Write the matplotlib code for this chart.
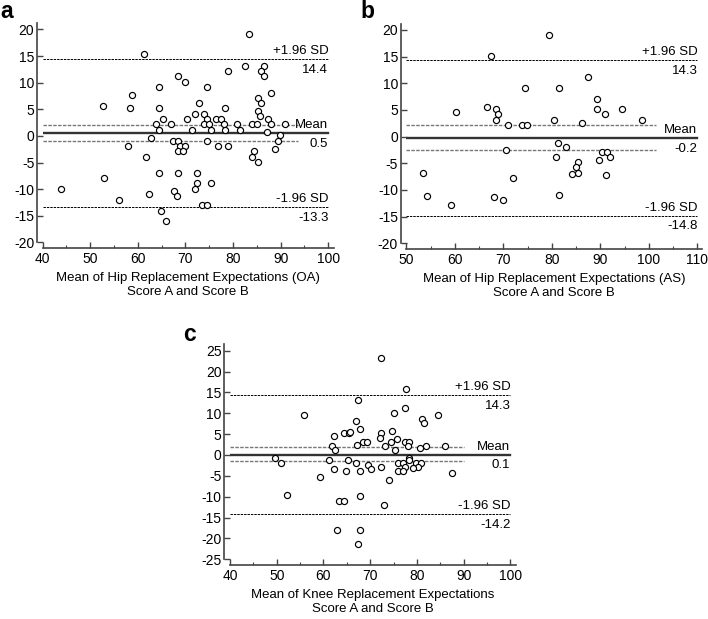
import matplotlib
matplotlib.use("Agg")
import matplotlib.pyplot as plt
from matplotlib.ticker import MultipleLocator

plt.rcParams['font.family'] = ['Liberation Sans', 'DejaVu Sans']
plt.rcParams['axes.unicode_minus'] = False

# ---------------- data ----------------
a_x = [83.4, 61.3, 82.4, 86.4, 78.9, 85.9, 86.4, 68.4, 70.0, 64.4, 74.5, 87.9, 58.7, 85.3, 85.9,
       72.9, 52.7, 58.3, 64.4, 78.4, 85.2, 71.9, 73.9, 85.6, 65.3, 70.4, 74.5, 76.4, 77.4, 87.4,
       63.9, 66.9, 73.9, 74.9, 78.0, 80.9, 83.9, 85.0, 87.9, 90.9, 64.4, 71.4, 75.4, 78.4, 81.4,
       87.1, 89.9, 62.7, 67.3, 68.4, 74.5, 89.4, 57.9, 68.9, 70.0, 76.8, 78.9, 88.7, 68.4, 69.4,
       84.4, 61.8, 83.9, 85.3, 64.4, 68.4, 72.4, 72.4, 75.4, 52.9, 43.9, 71.9, 67.6, 68.2, 62.4,
       56.0, 73.4, 74.5, 64.9, 65.9]
a_y = [19.2, 15.3, 13.2, 13.2, 12.2, 12.2, 11.2, 11.2, 10.2, 9.2, 9.2, 8.1, 7.6, 7.1, 6.1,
       6.1, 5.6, 5.2, 5.2, 5.2, 4.7, 4.2, 4.2, 3.7, 3.2, 3.2, 3.2, 3.2, 3.2, 3.2,
       2.2, 2.2, 2.2, 2.2, 2.2, 2.2, 2.2, 2.2, 2.2, 2.2, 1.2, 1.2, 1.2, 1.2, 1.2,
       0.7, 0.2, -0.3, -0.9, -0.9, -0.9, -0.9, -1.9, -1.9, -1.9, -1.9, -1.9, -2.4, -2.9, -2.9,
       -2.9, -3.9, -3.9, -4.9, -6.9, -6.9, -6.9, -8.9, -8.9, -7.9, -9.9, -9.9, -10.4, -11.3, -10.9,
       -12.0, -12.9, -12.9, -14.0, -15.9]

b_x = [79.4, 67.4, 87.4, 74.4, 81.5, 89.4, 60.2, 66.6, 68.4, 89.4, 94.4, 68.9, 90.9, 68.4, 80.4,
       98.5, 70.9, 73.9, 74.9, 86.2, 81.2, 82.9, 70.6, 90.4, 91.4, 80.9, 91.9, 89.7, 85.4, 84.9,
       85.4, 84.2, 91.2, 53.4, 71.9, 54.2, 68.1, 69.9, 81.5, 59.3]
b_y = [19.1, 15.1, 11.1, 9.1, 9.1, 7.1, 4.6, 5.6, 5.2, 5.2, 5.2, 4.2, 4.2, 3.2, 3.2,
       3.2, 2.1, 2.1, 2.1, 2.6, -1.25, -1.9, -2.5, -2.9, -2.9, -3.9, -3.9, -4.4, -4.8, -5.75,
       -6.75, -7.1, -7.25, -6.75, -7.8, -11.2, -11.4, -11.8, -10.9, -12.9]

c_x = [72.4, 77.7, 67.4, 77.4, 75.0, 55.8, 84.6, 81.1, 81.6, 66.9, 67.9, 74.7, 64.5, 65.4, 65.6,
       72.4, 62.2, 72.0, 75.7, 68.5, 69.4, 74.4, 77.4, 78.4, 67.1, 61.9, 73.1, 78.0, 81.9, 85.9,
       80.6, 62.4, 75.4, 49.6, 51.0, 61.2, 65.3, 66.9, 78.4, 78.2, 75.9, 77.0, 79.9, 80.9, 69.6,
       72.4, 77.4, 80.3, 79.2, 62.2, 70.1, 64.9, 67.9, 75.9, 77.0, 87.6, 59.2, 74.0, 52.3, 67.9,
       63.4, 64.5, 73.0, 62.9, 67.9, 67.4]
c_y = [23.2, 15.7, 13.2, 11.3, 10.1, 9.7, 9.7, 8.7, 7.6, 8.2, 6.15, 5.7, 5.2, 5.2, 5.5,
       5.2, 4.55, 4.0, 3.75, 3.1, 3.1, 3.1, 3.1, 3.1, 2.5, 2.2, 2.2, 2.2, 2.2, 2.2,
       1.7, 1.1, 1.1, -0.7, -1.9, -1.3, -1.3, -1.9, -0.7, -1.3, -1.9, -1.9, -1.9, -1.9, -2.5,
       -2.9, -2.9, -2.9, -3.2, -3.35, -3.4, -3.75, -3.8, -3.8, -3.8, -4.3, -5.3, -5.9, -9.6, -9.9,
       -11.0, -11.0, -11.9, -18.0, -18.0, -21.3]

# summary lines: mean, +1.96 SD, -1.96 SD, CI upper, CI lower
a_stats = [0.5, 14.4, -13.3, 2.1, -1.0]
b_stats = [-0.2, 14.3, -14.8, 2.1, -2.5]
c_stats = [0.1, 14.3, -14.2, 1.8, -1.5]

a_label = "Mean of Hip Replacement Expectations (OA)\nScore A and Score B"
b_label = "Mean of Hip Replacement Expectations (AS)\nScore A and Score B"
c_label = "Mean of Knee Replacement Expectations\nScore A and Score B"

# ---------------- figure ----------------
W, H = 708, 619
fig = plt.figure(figsize=(W / 100, H / 100), dpi=100)

FS_TXT = 9.5
FS_TICK = 10
SPINE = '#444444'


def panel(rect, xs, ys, stats, xlim, ylim, xticks, yticks, ci_end, label):
    ax = fig.add_axes(rect)
    mean, up, lo, ciu, cil = stats
    x0, x1 = xticks[0], xticks[-1]
    ax.plot([x0, x1], [up, up], color='black', lw=0.7, ls=(0, (2.5, 1)), zorder=1)
    ax.plot([x0, x1], [lo, lo], color='black', lw=0.7, ls=(0, (2.5, 1)), zorder=1)
    ax.plot([x0, ci_end], [ciu, ciu], color='#777777', lw=1.0, ls=(0, (2.5, 1)), zorder=1)
    ax.plot([x0, ci_end], [cil, cil], color='#777777', lw=1.0, ls=(0, (2.5, 1)), zorder=1)
    ax.plot([x0, x1], [mean, mean], color='#333333', lw=1.7, zorder=1)
    ax.plot(xs, ys, 'o', mfc='white', mec='black', ms=4.4, mew=0.85, zorder=3, clip_on=False)

    tk = dict(ha='right', fontsize=FS_TXT, color='black', textcoords='offset points')
    ax.annotate('+1.96 SD', (x1, up), xytext=(0, 3.5), va='baseline', **tk)
    ax.annotate(f'{up:.1f}', (x1, up), xytext=(0, -3.5), va='top', **tk)
    ax.annotate('Mean', (x1, mean), xytext=(0, 3.5), va='baseline', **tk)
    ax.annotate(f'{mean:.1f}', (x1, mean), xytext=(0, -3.5), va='top', **tk)
    ax.annotate('-1.96 SD', (x1, lo), xytext=(0, 3.5), va='baseline', **tk)
    ax.annotate(f'{lo:.1f}', (x1, lo), xytext=(0, -3.5), va='top', **tk)

    ax.set_xlim(*xlim)
    ax.set_ylim(*ylim)
    ax.set_xticks(xticks)
    ax.set_yticks(yticks)
    ax.xaxis.set_minor_locator(MultipleLocator(5))
    for s in ['top', 'right']:
        ax.spines[s].set_visible(False)
    for s in ['left', 'bottom']:
        ax.spines[s].set_position(('outward', 4))
        ax.spines[s].set_color(SPINE)
        ax.spines[s].set_linewidth(1.2)
    ax.tick_params(axis='both', which='major', direction='in', length=4, width=1.0,
                   color=SPINE, labelsize=FS_TICK)
    ax.tick_params(axis='x', which='minor', direction='in', length=2.2, width=0.8, color=SPINE)
    ax.tick_params(axis='y', pad=2)
    ax.tick_params(axis='x', pad=3)
    ax.set_xlabel(label, fontsize=FS_TXT, labelpad=4, linespacing=1.3)
    ax.set_facecolor('none')
    return ax


panel([42.7 / W, 1 - 242.5 / H, (334 - 42.7) / W, (242.5 - 23) / H],
      a_x, a_y, a_stats, (40, 101.2), (-20, 21.2),
      list(range(40, 101, 10)), list(range(-20, 21, 5)), 93.7, a_label)

panel([406.3 / W, 1 - 243.3 / H, (702.3 - 406.3) / W, (243.3 - 24) / H],
      b_x, b_y, b_stats, (50, 111), (-20, 21.1),
      list(range(50, 111, 10)), list(range(-20, 21, 5)), 101.4, b_label)

panel([230 / W, 1 - 559.3 / H, (516 - 230) / W, (559.3 - 344) / H],
      c_x, c_y, c_stats, (40, 101.2), (-25, 26.6),
      list(range(40, 101, 10)), list(range(-25, 26, 5)), 90.0, c_label)

fig.text(0.0, 1 - 18 / H, 'a', fontsize=16.5, fontweight='bold', va='baseline', ha='left')
fig.text(360 / W, 1 - 18 / H, 'b', fontsize=16.5, fontweight='bold', va='baseline', ha='left')
fig.text(183 / W, 1 - 341 / H, 'c', fontsize=16.5, fontweight='bold', va='baseline', ha='left')

fig.savefig('out.png', dpi=100)
